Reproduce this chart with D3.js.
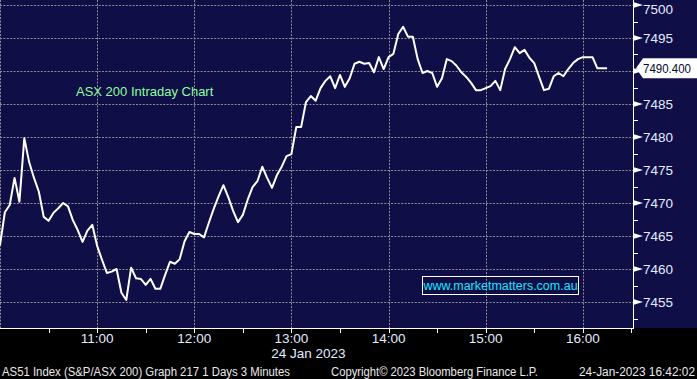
<!DOCTYPE html>
<html>
<head>
<meta charset="utf-8">
<script src="https://cdn.jsdelivr.net/npm/d3@7"></script>
<style>
    html, body { margin: 0; padding: 0; background: #000; }
    svg { display: block; }
</style>
</head>
<body>
<div id="chart"></div>
<script>
// ASX 200, 3 minute closes from 10:00 on 24 Jan 2023
let startTime = "10:00",
    stepMinutes = 3;
let closes = [
    7463.6, 7468.6, 7469.7, 7473.8, 7470.2, 7479.8, 7476.2, 7473.8, 7471.7, 7467.9,
    7467.3, 7468.5, 7469.2, 7470.0, 7469.5, 7467.4, 7465.9, 7464.1, 7465.8, 7466.7,
    7463.5, 7461.4, 7459.4, 7459.6, 7460.0, 7456.4, 7455.3, 7460.2, 7458.6, 7458.5,
    7457.6, 7458.5, 7457.0, 7457.0, 7459.1, 7461.1, 7460.8, 7461.5, 7464.2, 7465.6,
    7465.3, 7465.3, 7464.8, 7467.0, 7469.1, 7471.0, 7472.7, 7470.9, 7468.8, 7467.1,
    7468.2, 7470.5, 7472.4, 7473.3, 7475.5, 7473.8, 7472.3, 7474.2, 7475.5, 7477.1,
    7477.4, 7481.5, 7481.5, 7485.3, 7486.2, 7485.5, 7487.4, 7488.5, 7489.2, 7487.4,
    7489.4, 7487.6, 7488.9, 7491.1, 7491.4, 7491.1, 7491.2, 7489.8, 7492.1, 7490.3,
    7492.1, 7492.6, 7495.6, 7496.7, 7495.2, 7495.2, 7491.8, 7489.7, 7490.0, 7489.7,
    7487.6, 7488.9, 7491.8, 7491.5, 7490.8, 7489.8, 7489.1, 7488.2, 7487.1, 7487.1,
    7487.4, 7487.7, 7488.5, 7487.1, 7490.3, 7491.8, 7493.6, 7492.7, 7493.2, 7492.0,
    7491.2, 7489.1, 7487.1, 7487.3, 7489.2, 7489.7, 7489.2, 7490.3, 7491.2, 7491.8,
    7492.1, 7492.1, 7492.1, 7490.4, 7490.4, 7490.4
];
let lastPrice = 7490.4;
let priceTicks = [7455, 7460, 7465, 7470, 7475, 7480, 7485, 7490, 7495, 7500];
let timeTicks = ["11:00", "12:00", "13:00", "14:00", "15:00", "16:00"];
let dateLabel = "24 Jan 2023";
let chartTitle = "ASX 200 Intraday Chart";
let watermark = "www.marketmatters.com.au";
let footerLeft = "AS51 Index (S&P/ASX 200) Graph 217 1 Days 3 Minutes",
    footerMid = "Copyright\u00a9 2023 Bloomberg Finance L.P.",
    footerRight = "24-Jan-2023 16:42:02";

let width = 697, height = 379;
let plotRight = 633, plotBottom = 328;
let navy = "#0f0e47", gridColor = "#8f8f8f", axisText = "#e4ebff";
let font = "'Liberation Sans', Arial, sans-serif";

let parseTime = d3.timeParse("%Y-%m-%d %H:%M");
let dayStart = parseTime("2023-01-24 " + startTime);
let data = closes.map((v, i) => ({t: d3.timeMinute.offset(dayStart, i * stepMinutes), v: v}));

let x = d3.scaleTime()
    .domain([dayStart, parseTime("2023-01-24 16:31")])
    .range([0, plotRight]);
let y = d3.scaleLinear().domain([7455, 7500]).range([302, 5]);

let svg = d3.select("#chart").append("svg").attr("width", width).attr("height", height);
svg.append("rect").attr("width", width).attr("height", height).attr("fill", "#000");
svg.append("rect").attr("width", width).attr("height", plotBottom).attr("fill", navy);

//Dotted grid
let grid = svg.append("g").attr("stroke", gridColor).attr("stroke-width", 1).attr("stroke-dasharray", "2,1.4");
grid.selectAll(".hgrid").data(priceTicks).enter().append("line")
    .attr("x1", 0).attr("x2", plotRight)
    .attr("y1", d => Math.round(y(d)) + 0.5).attr("y2", d => Math.round(y(d)) + 0.5);
grid.selectAll(".vgrid").data(["10:00"].concat(timeTicks)).enter().append("line")
    .attr("x1", d => Math.round(x(parseTime("2023-01-24 " + d))) + 0.5)
    .attr("x2", d => Math.round(x(parseTime("2023-01-24 " + d))) + 0.5)
    .attr("y1", 0).attr("y2", plotBottom);

//Price line
let line = d3.line().x(d => x(d.t)).y(d => y(d.v));
svg.append("path").datum(data).attr("d", line)
    .attr("fill", "none").attr("stroke", "#fff").attr("stroke-width", 2).attr("stroke-linejoin", "round");

//Right axis
let py = y(lastPrice);
let axisG = svg.append("g");
axisG.append("line").attr("x1", plotRight + 0.5).attr("x2", plotRight + 0.5).attr("y1", 0).attr("y2", plotBottom)
    .attr("stroke", "#fff").attr("stroke-width", 1);
let minorTicks = d3.range(7452.5, 7501, 2.5).filter(v => priceTicks.indexOf(v) < 0);
axisG.selectAll(".minor").data(minorTicks).enter().append("line")
    .attr("x1", plotRight).attr("x2", plotRight + 5)
    .attr("y1", d => Math.round(y(d)) + 0.5).attr("y2", d => Math.round(y(d)) + 0.5)
    .attr("stroke", "#fff");
axisG.selectAll(".arrow").data(priceTicks).enter().append("path")
    .attr("d", d => `M${plotRight},${y(d) - 3}L${plotRight + 10},${y(d)}L${plotRight},${y(d) + 3}Z`)
    .attr("fill", "#fff");
//the last price flag hides the label it sits on
axisG.selectAll(".plabel").data(priceTicks.filter(d => Math.abs(y(d) - py) > 12)).enter().append("text")
    .text(d => d)
    .attr("x", 643).attr("y", d => Math.max(y(d), 9) + 5)
    .attr("fill", axisText).attr("style", `font: 13.5px ${font}`);

//Last price flag
svg.append("path")
    .attr("d", `M636,${py}L643,${py - 10}L697,${py - 10}L697,${py + 10}L643,${py + 10}Z`)
    .attr("fill", "#fff");
svg.append("text").text(d3.format(".3f")(lastPrice))
    .attr("x", 643).attr("y", py + 5)
    .attr("textLength", 48).attr("lengthAdjust", "spacingAndGlyphs")
    .attr("fill", "#0a0a30").attr("style", `font: 13px ${font}`);

//Bottom axis
let xAxisG = svg.append("g");
xAxisG.append("line").attr("x1", 0).attr("x2", plotRight + 1).attr("y1", plotBottom + 0.5).attr("y2", plotBottom + 0.5)
    .attr("stroke", "#fff");
let halfHours = d3.timeMinute.every(30).range(dayStart, parseTime("2023-01-24 16:31")).slice(1);
xAxisG.selectAll(".xtick").data(halfHours).enter().append("line")
    .attr("x1", d => Math.round(x(d)) + 0.5).attr("x2", d => Math.round(x(d)) + 0.5)
    .attr("y1", plotBottom).attr("y2", plotBottom + 5)
    .attr("stroke", "#fff");
xAxisG.selectAll(".xlabel").data(timeTicks).enter().append("text")
    .text(d => d)
    .attr("x", d => x(parseTime("2023-01-24 " + d)))
    .attr("y", 343)
    .attr("text-anchor", "middle")
    .attr("fill", axisText).attr("style", `font: 13.5px ${font}`);
xAxisG.append("text").text(dateLabel)
    .attr("x", x(parseTime("2023-01-24 13:00")) + 17).attr("y", 358)
    .attr("text-anchor", "middle")
    .attr("fill", axisText).attr("style", `font: 13.5px ${font}`);

//Annotations
svg.append("text").text(chartTitle)
    .attr("x", 76).attr("y", 96)
    .attr("fill", "#8dff9c").attr("style", `font: 13px ${font}`);
svg.append("rect").attr("x", 422.5).attr("y", 276.5).attr("width", 156).attr("height", 18)
    .attr("fill", "none").attr("stroke", "#fff").attr("stroke-width", 1);
svg.append("text").text(watermark)
    .attr("x", 500.5).attr("y", 290)
    .attr("text-anchor", "middle")
    .attr("fill", "#19e6ff").attr("style", `font: 12.5px ${font}`);

//Footer
let footer = svg.append("g").attr("fill", "#e8e8e8").attr("style", `font: 12px ${font}`);
footer.append("text").text(footerLeft).attr("x", 2).attr("y", 376)
    .attr("textLength", 288).attr("lengthAdjust", "spacingAndGlyphs");
footer.append("text").text(footerMid).attr("x", 331).attr("y", 376)
    .attr("textLength", 207).attr("lengthAdjust", "spacingAndGlyphs");
footer.append("text").text(footerRight).attr("x", 579).attr("y", 376)
    .attr("textLength", 116).attr("lengthAdjust", "spacingAndGlyphs");
</script>
</body>
</html>
